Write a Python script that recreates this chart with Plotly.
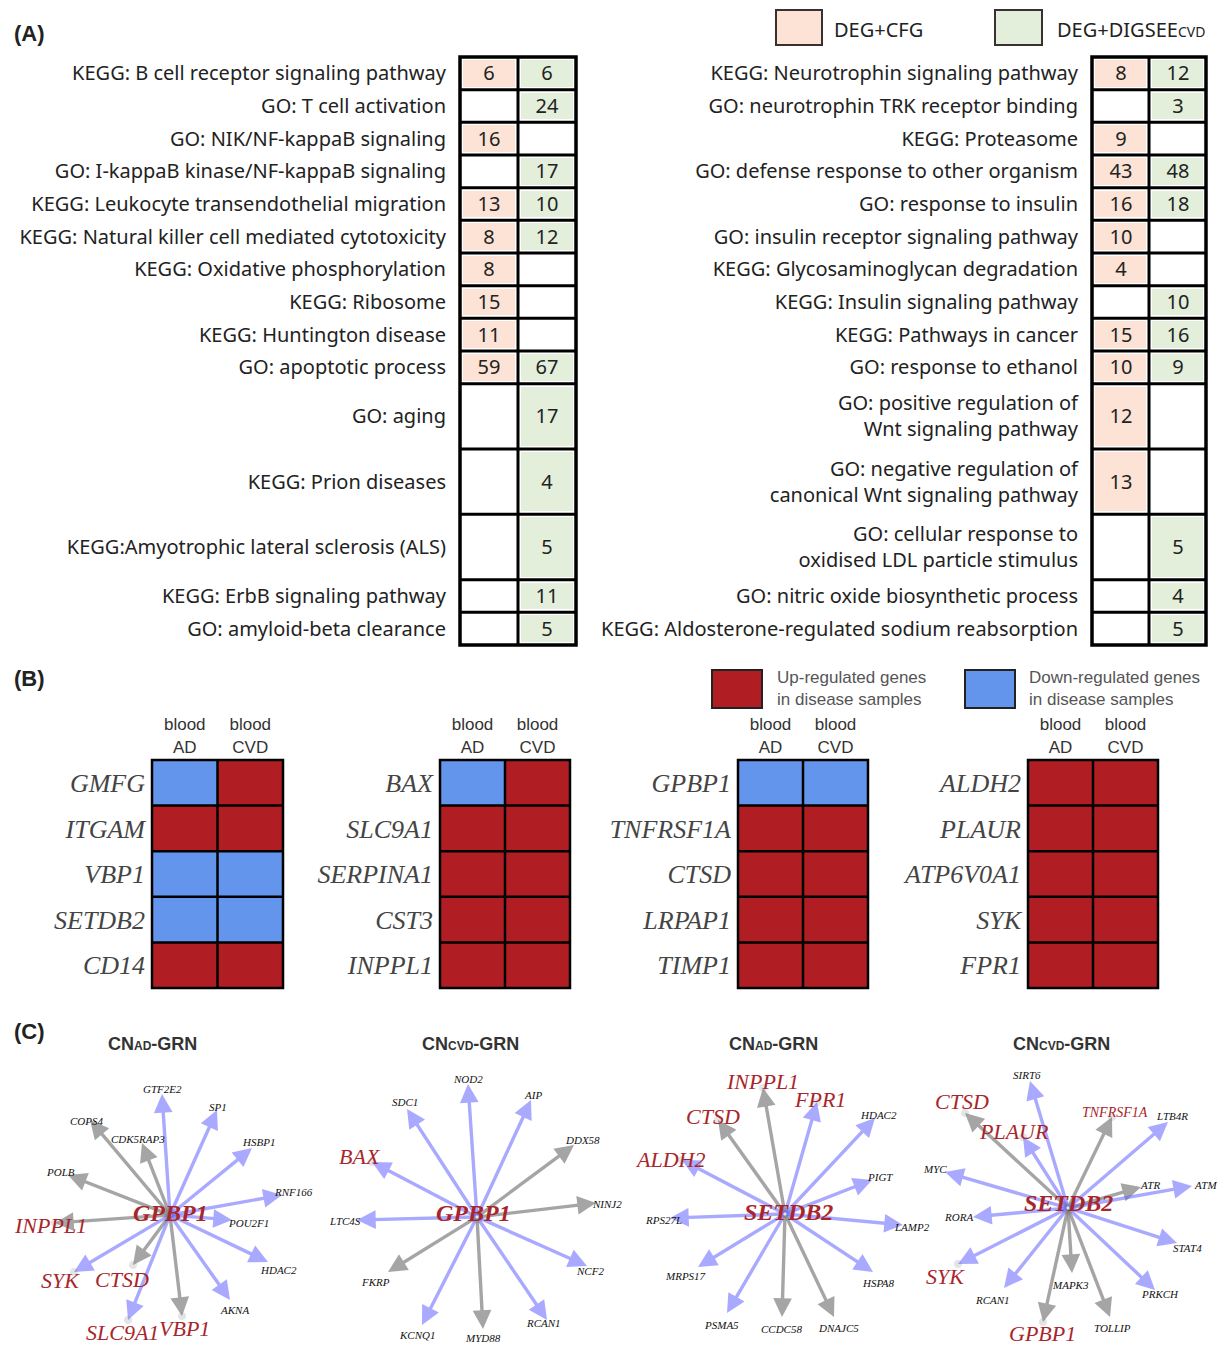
import plotly.graph_objects as go

W, H = 1225, 1345

# ---------------- (A) enriched terms shared by the two gene sources ----------------
A_SOURCES = ["DEG+CFG", "DEG+DIGSEE<span style='font-size:14px'>CVD</span>"]

A_LEFT_TERMS = [
    "KEGG: B cell receptor signaling pathway",
    "GO: T cell activation",
    "GO: NIK/NF-kappaB signaling",
    "GO: I-kappaB kinase/NF-kappaB signaling",
    "KEGG: Leukocyte transendothelial migration",
    "KEGG: Natural killer cell mediated cytotoxicity",
    "KEGG: Oxidative phosphorylation",
    "KEGG: Ribosome",
    "KEGG: Huntington disease",
    "GO: apoptotic process",
    "GO: aging",
    "KEGG: Prion diseases",
    "KEGG:Amyotrophic lateral sclerosis (ALS)",
    "KEGG: ErbB signaling pathway",
    "GO: amyloid-beta clearance",
]
A_LEFT_CFG = [6, None, 16, None, 13, 8, 8, 15, 11, 59, None, None, None, None, None]
A_LEFT_DIGSEE = [6, 24, None, 17, 10, 12, None, None, None, 67, 17, 4, 5, 11, 5]

A_RIGHT_TERMS = [
    "KEGG: Neurotrophin signaling pathway",
    "GO: neurotrophin TRK receptor binding",
    "KEGG: Proteasome",
    "GO: defense response to other organism",
    "GO: response to insulin",
    "GO: insulin receptor signaling pathway",
    "KEGG: Glycosaminoglycan degradation",
    "KEGG: Insulin signaling pathway",
    "KEGG: Pathways in cancer",
    "GO: response to ethanol",
    "GO: positive regulation of<br>Wnt signaling pathway",
    "GO: negative regulation of<br>canonical Wnt signaling pathway",
    "GO: cellular response to<br>oxidised LDL particle stimulus",
    "GO: nitric oxide biosynthetic process",
    "KEGG: Aldosterone-regulated sodium reabsorption",
]
A_RIGHT_CFG = [8, None, 9, 43, 16, 10, 4, None, 15, 10, 12, 13, None, None, None]
A_RIGHT_DIGSEE = [12, 3, None, 48, 18, None, None, 10, 16, 9, None, None, 5, 4, 5]

# ---------------- (B) direction of change in blood samples ----------------
B_SAMPLES = ["blood<br>AD", "blood<br>CVD"]
B_GENES = [
    ["GMFG", "ITGAM", "VBP1", "SETDB2", "CD14"],
    ["BAX", "SLC9A1", "SERPINA1", "CST3", "INPPL1"],
    ["GPBP1", "TNFRSF1A", "CTSD", "LRPAP1", "TIMP1"],
    ["ALDH2", "PLAUR", "ATP6V0A1", "SYK", "FPR1"],
]
# +1 up-regulated, -1 down-regulated in disease samples
B_AD = [[-1, 1, -1, -1, 1], [-1, 1, 1, 1, 1], [-1, 1, 1, 1, 1], [1, 1, 1, 1, 1]]
B_CVD = [[1, 1, -1, -1, 1], [1, 1, 1, 1, 1], [-1, 1, 1, 1, 1], [1, 1, 1, 1, 1]]

# ---------------- (C) hub gene regulatory networks ----------------
GRN_TITLES = [
    "CN<span style='font-size:12px'>AD</span>-GRN",
    "CN<span style='font-size:12px'>CVD</span>-GRN",
    "CN<span style='font-size:12px'>AD</span>-GRN",
    "CN<span style='font-size:12px'>CVD</span>-GRN",
]
GRN_HUBS = ["GPBP1", "GPBP1", "SETDB2", "SETDB2"]
GRN_TARGETS = [
    ["GTF2E2", "SP1", "COPS4", "CDK5RAP3", "HSBP1", "POLB", "RNF166", "INPPL1",
     "POU2F1", "SYK", "CTSD", "HDAC2", "AKNA", "SLC9A1", "VBP1"],
    ["NOD2", "AIP", "SDC1", "DDX58", "BAX", "NINJ2", "LTC4S", "NCF2", "FKRP",
     "RCAN1", "KCNQ1", "MYD88"],
    ["INPPL1", "FPR1", "CTSD", "HDAC2", "ALDH2", "PIGT", "RPS27L", "LAMP2",
     "MRPS17", "HSPA8", "PSMA5", "CCDC58", "DNAJC5"],
    ["SIRT6", "CTSD", "TNFRSF1A", "LTB4R", "PLAUR", "MYC", "ATR", "ATM", "RORA",
     "STAT4", "SYK", "MAPK3", "RCAN1", "PRKCH", "GPBP1", "TOLLIP"],
]
# edge class: 1 and 2 are the two interaction classes of the network
GRN_EDGE_CLASS = [
    [1, 1, 2, 2, 1, 2, 1, 2, 1, 1, 2, 1, 1, 1, 2],
    [1, 1, 1, 2, 1, 2, 1, 1, 2, 1, 1, 2],
    [2, 1, 2, 1, 1, 1, 1, 1, 1, 1, 1, 2, 2],
    [1, 2, 2, 1, 1, 1, 2, 1, 1, 1, 1, 2, 1, 1, 2, 2],
]

# network drawing layout: node offsets from the hub (px, y downward)
GRN_LAYOUT = [
    dict(hub_at=(170, 1215), box=(0, 305, 1060, 1345), hub_label=(0, -2),
         tips=[(-8, -121), (47, -105), (-80, -95), (-28, -72), (82, -67), (-102, -40),
               (112, -20), (-115, 8), (62, 5), (-96, 57), (-37, 50), (98, 47), (60, 85),
               (-42, 105), (12, 101)],
         labels=[(-8, -126), (48, -108), (-83, -94), (-32, -76), (88, -73), (-110, -43),
                 (123, -23), (-120, 10), (78, 8), (-110, 65), (-48, 64), (108, 55),
                 (64, 95), (-48, 117), (14, 113)]),
    dict(hub_at=(477, 1217), box=(310, 615, 1060, 1345), hub_label=(-4, -4),
         tips=[(-9, -133), (54, -117), (-70, -108), (97, -72), (-105, -55), (119, -14),
               (-120, 3), (110, 49), (-89, 55), (70, 103), (-55, 108), (6, 112)],
         labels=[(-9, -138), (56, -122), (-72, -115), (105, -77), (-117, -61), (130, -13),
                 (-132, 4), (113, 54), (-102, 65), (66, 106), (-60, 118), (6, 121)]),
    dict(hub_at=(785, 1214), box=(620, 915, 1060, 1345), hub_label=(3, -2),
         tips=[(-22, -126), (32, -112), (-67, -94), (90, -96), (-103, -54), (87, -34),
               (-115, 4), (118, 11), (-87, 53), (88, 58), (-58, 99), (-3, 103), (49, 103)],
         labels=[(-23, -133), (35, -115), (-72, -98), (93, -99), (-115, -55), (95, -37),
                 (-122, 6), (127, 13), (-100, 62), (93, 69), (-64, 111), (-4, 115),
                 (53, 114)]),
    dict(hub_at=(1068, 1208), box=(920, 1225, 1060, 1345), hub_label=(0, -5),
         tips=[(-38, -127), (-103, -95), (44, -91), (100, -86), (-45, -71), (-123, -36),
               (73, -21), (124, -22), (-95, 9), (109, 35), (-110, 56), (4, 65), (-64, 80),
               (87, 82), (-25, 114), (42, 109)],
         labels=[(-41, -133), (-106, -107), (47, -96), (104, -92), (-54, -77), (-133, -39),
                 (82, -23), (137, -23), (-110, 9), (119, 40), (-123, 68), (2, 77),
                 (-76, 92), (92, 86), (-26, 125), (44, 120)]),
]
LABEL_SIZE_OVERRIDE = {"TNFRSF1A": 14}

# ---------------- styling ----------------
PINK = "#fce3d5"
GREEN = "#e3efda"
UP_RED = "#b01e23"
DOWN_BLUE = "#6495ed"
EDGE_COLOR = {1: "rgba(100,100,255,0.55)", 2: "rgba(128,128,128,0.7)"}
NODE_RED = "#a8262b"
SANS = "Noto Sans"
ARIAL = "Liberation Sans"
SERIF = "Liberation Serif"

# row heights of the (A) tables, in row units
ROW_SPAN = [1] * 10 + [2] * 3 + [1] * 2

fig = go.Figure()
axes = {}
shapes = []
annotations = []


def px_x(x):
    return x / W


def px_y(y):
    return 1 - y / H


def sfx(n):
    return "" if n == 1 else str(n)


def frame(n, box, xspan, yspan, pad=0):
    """Create axis pair n covering a pixel box; y grows downward."""
    x0, x1, y0, y1 = box
    sx = (x1 - x0) / (xspan[1] - xspan[0])
    sy = (y1 - y0) / (yspan[1] - yspan[0])
    axes["xaxis" + sfx(n)] = dict(
        domain=[max(0, px_x(x0 - pad)), min(1, px_x(x1 + pad))],
        range=[xspan[0] - pad / sx, xspan[1] + pad / sx],
        anchor="y" + sfx(n), visible=False, fixedrange=True, automargin=False,
        showgrid=False, zeroline=False, showline=False)
    axes["yaxis" + sfx(n)] = dict(
        domain=[max(0, px_y(y1 + pad)), min(1, px_y(y0 - pad))],
        range=[yspan[1] + pad / sy, yspan[0] - pad / sy],
        anchor="x" + sfx(n), visible=False, fixedrange=True, automargin=False,
        showgrid=False, zeroline=False, showline=False)


def grid(n, xs, ys, width, outer):
    xr, yr = "x" + sfx(n), "y" + sfx(n)
    for x in xs[1:-1]:
        shapes.append(dict(type="line", xref=xr, yref=yr, x0=x, x1=x, y0=ys[0], y1=ys[-1],
                           line=dict(color="black", width=width)))
    for y in ys[1:-1]:
        shapes.append(dict(type="line", xref=xr, yref=yr, x0=xs[0], x1=xs[-1], y0=y, y1=y,
                           line=dict(color="black", width=width)))
    shapes.append(dict(type="rect", xref=xr, yref=yr, x0=xs[0], x1=xs[-1], y0=ys[0],
                       y1=ys[-1], line=dict(color="black", width=outer)))


def note(x, y, text, size, color="#222", family=ARIAL, xanchor="left", align="left"):
    annotations.append(dict(xref="paper", yref="paper", x=px_x(x), y=px_y(y), text=text,
                            showarrow=False, xanchor=xanchor, yanchor="middle", align=align,
                            font=dict(family=family, size=size, color=color)))


# ---------------- (A) tables ----------------
edges = [0]
for s in ROW_SPAN:
    edges.append(edges[-1] + s)
centers = [(a + b) / 2 for a, b in zip(edges[:-1], edges[1:])]


def enrichment_table(n, terms, cfg, dig, box):
    frame(n, box, (0, 2), (0, edges[-1]), pad=4)
    axes["yaxis" + sfx(n)].update(
        visible=True, ticks="", tickvals=centers, ticktext=terms,
        tickfont=dict(family=SANS, size=20, color="#222"), ticklabelstandoff=9)
    z = [[0 if c is not None else None, 1 if d is not None else None] for c, d in zip(cfg, dig)]
    txt = [["" if c is None else str(c), "" if d is None else str(d)] for c, d in zip(cfg, dig)]
    fig.add_trace(go.Heatmap(
        x=[0, 1, 2], y=edges, z=z, text=txt, texttemplate="%{text}",
        textfont=dict(family=SANS, size=20, color="#222"),
        colorscale=[[0, PINK], [1, GREEN]], zmin=0, zmax=1, showscale=False,
        xgap=6, ygap=6, hoverinfo="skip", xaxis="x" + sfx(n), yaxis="y" + sfx(n)))
    grid(n, [0, 1, 2], edges, 3, 3.5)


enrichment_table(1, A_LEFT_TERMS, A_LEFT_CFG, A_LEFT_DIGSEE, (460, 576, 57, 645))
enrichment_table(2, A_RIGHT_TERMS, A_RIGHT_CFG, A_RIGHT_DIGSEE, (1092, 1206, 57, 645))

# legend of (A)
for (bx0, bx1, tx), fill, label in zip([(776, 822, 832), (995, 1042, 1055)], [PINK, GREEN], A_SOURCES):
    shapes.append(dict(type="rect", xref="paper", yref="paper", x0=px_x(bx0), x1=px_x(bx1),
                       y0=px_y(45), y1=px_y(10), fillcolor=fill,
                       line=dict(color="#3a3030", width=2)))
    note(tx, 29, label, 20, family=SANS)

# ---------------- (B) heatmaps ----------------
B_BOXES = [(152, 283), (440, 570), (738, 868), (1028, 1158)]
for k, (genes, ad, cvd, (bx0, bx1)) in enumerate(zip(B_GENES, B_AD, B_CVD, B_BOXES)):
    n = 3 + k
    frame(n, (bx0, bx1, 760, 988), (0, 2), (0, len(genes)), pad=3)
    axes["xaxis" + sfx(n)].update(
        visible=True, side="top", ticks="", tickvals=[0.5, 1.5], ticktext=B_SAMPLES,
        tickfont=dict(family=ARIAL, size=17, color="#333"), ticklabelstandoff=0)
    axes["yaxis" + sfx(n)].update(
        visible=True, ticks="", tickvals=[i + 0.5 for i in range(len(genes))], ticktext=genes,
        tickfont=dict(family=SERIF, size=26, color="#444", style="italic"),
        ticklabelstandoff=3)
    fig.add_trace(go.Heatmap(
        x=[0.5, 1.5], y=[i + 0.5 for i in range(len(genes))],
        z=[[a, c] for a, c in zip(ad, cvd)], colorscale=[[0, DOWN_BLUE], [1, UP_RED]],
        zmin=-1, zmax=1, showscale=False, hoverinfo="skip",
        xaxis="x" + sfx(n), yaxis="y" + sfx(n)))
    grid(n, [0, 1, 2], list(range(len(genes) + 1)), 2.5, 2.5)

# legend of (B)
for (bx0, bx1, tx), fill, label in zip(
        [(712, 762, 775), (965, 1015, 1027)], [UP_RED, DOWN_BLUE],
        ["Up-regulated genes<br>in disease samples", "Down-regulated genes<br>in disease samples"]):
    shapes.append(dict(type="rect", xref="paper", yref="paper", x0=px_x(bx0), x1=px_x(bx1),
                       y0=px_y(708), y1=px_y(670), fillcolor=fill,
                       line=dict(color="#222", width=2)))
    note(tx, 688, label, 17, color="#555")

# ---------------- (C) networks ----------------
key_genes = {g for group in B_GENES for g in group}
TITLE_X = [152, 470, 773, 1061]
for k, (title, hub, targets, classes, lay) in enumerate(
        zip(GRN_TITLES, GRN_HUBS, GRN_TARGETS, GRN_EDGE_CLASS, GRN_LAYOUT)):
    n = 7 + k
    cx, cy = lay["hub_at"]
    bx0, bx1, by0, by1 = lay["box"]
    frame(n, lay["box"], (bx0 - cx, bx1 - cx), (by0 - cy, by1 - cy))
    xr, yr = "x" + sfx(n), "y" + sfx(n)

    # node markers for the hub and the key genes
    red_tips = [t for t, g in zip(lay["tips"], targets) if g in key_genes]
    fig.add_trace(go.Scatter(
        x=[0] + [t[0] for t in red_tips], y=[0] + [t[1] for t in red_tips], mode="markers",
        marker=dict(size=[14] + [9] * len(red_tips), color="rgba(205,205,205,0.75)"),
        hoverinfo="skip", cliponaxis=False, xaxis=xr, yaxis=yr))

    for tip, cls in zip(lay["tips"], classes):
        annotations.append(dict(
            xref=xr, yref=yr, axref=xr, ayref=yr, x=tip[0], y=tip[1], ax=0, ay=0, text="",
            showarrow=True, arrowhead=2, arrowsize=1.1, arrowwidth=3.4,
            arrowcolor=EDGE_COLOR[cls], standoff=0, startstandoff=0))

    for g, pos in zip(targets, lay["labels"]):
        red = g in key_genes
        size = LABEL_SIZE_OVERRIDE.get(g, 22 if red else 11)
        annotations.append(dict(
            xref=xr, yref=yr, x=pos[0], y=pos[1], text=g, showarrow=False,
            xanchor="center", yanchor="middle",
            font=dict(family=SERIF, size=size, color=NODE_RED if red else "#111",
                      style="italic")))
    annotations.append(dict(
        xref=xr, yref=yr, x=lay["hub_label"][0], y=lay["hub_label"][1], text=f"<b>{hub}</b>",
        showarrow=False, xanchor="center", yanchor="middle",
        font=dict(family=SERIF, size=24, color=NODE_RED, style="italic")))
    note(TITLE_X[k], 1044, f"<b>{title}</b>", 18, color="#333", xanchor="center")

# panel letters
note(12, 33, "<b>(A)</b>", 22)
note(12, 678, "<b>(B)</b>", 22)
note(12, 1031, "<b>(C)</b>", 22)

fig.update_layout(
    width=W, height=H, margin=dict(l=0, r=0, t=0, b=0, pad=0),
    paper_bgcolor="white", plot_bgcolor="white", showlegend=False,
    shapes=shapes, annotations=annotations, **axes)

fig.write_html("out.html")
